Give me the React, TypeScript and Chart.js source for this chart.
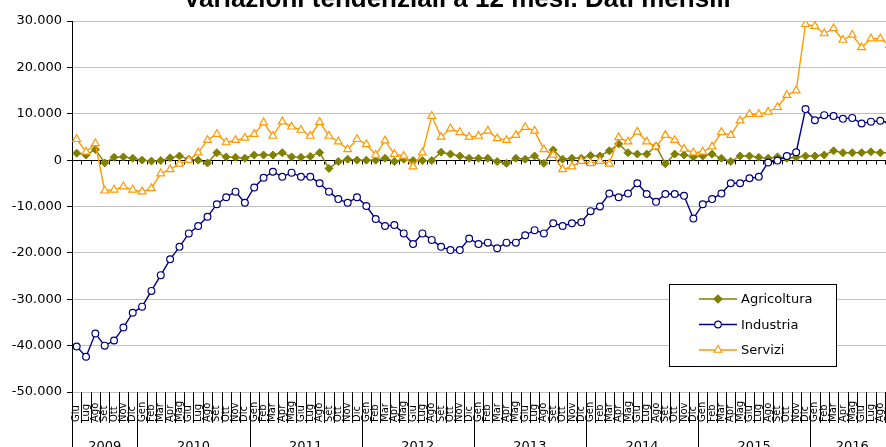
import React, { useEffect, useRef } from 'react';
import { Chart, registerables } from 'chart.js';

Chart.register(...registerables);

const TITLE = 'Variazioni tendenziali a 12 mesi. Dati mensili';
const MONTHS = ['Gen', 'Feb', 'Mar', 'Apr', 'Mag', 'Giu', 'Lug', 'Ago', 'Set', 'Ott', 'Nov', 'Dic'];
const YEARS = ['2009', '2010', '2011', '2012', '2013', '2014', '2015', '2016'];
const MONTHS_PER_YEAR = [7, 12, 12, 12, 12, 12, 12, 9];
const FIRST_MONTH = 5; // Giu 2009

const categories: string[] = [];
{
  let m = FIRST_MONTH;
  MONTHS_PER_YEAR.forEach((c) => {
    for (let k = 0; k < c; k++) {
      categories.push(MONTHS[m % 12]);
      m++;
    }
  });
}

// values in thousands
const agricoltura = [
  1.5, 1.1, 2.3, -0.6, 0.6, 0.7, 0.4,
  0.0, -0.2, -0.1, 0.5, 0.9, 0.2, 0.0, -0.6, 1.6, 0.7, 0.6, 0.4,
  1.1, 1.1, 1.1, 1.6, 0.7, 0.6, 0.8, 1.6, -1.8, -0.3, 0.2, 0.0,
  0.0, 0.0, 0.4, -0.3, 0.2, -0.1, -0.1, -0.1, 1.7, 1.3, 0.9, 0.4,
  0.4, 0.4, -0.3, -0.7, 0.4, 0.2, 0.9, -0.7, 2.2, 0.2, 0.4, 0.4,
  1.0, 0.9, 2.0, 3.5, 1.6, 1.3, 1.3, 3.0, -0.8, 1.3, 1.1, 0.7,
  0.9, 1.3, 0.4, -0.3, 0.9, 0.9, 0.6, 0.4, 0.7, 0.4, 0.6, 0.9,
  0.9, 1.1, 2.0, 1.6, 1.6, 1.6, 1.8, 1.6, 1.6,
];

const industria = [
  -40.2, -42.4, -37.4, -40.0, -38.9, -36.1, -32.9,
  -31.6, -28.2, -24.8, -21.4, -18.7, -15.8, -14.2, -12.2, -9.5, -8.0, -6.8, -9.2,
  -5.9, -3.8, -2.5, -3.6, -2.7, -3.6, -3.6, -5.0, -6.8, -8.4, -9.2, -8.0,
  -9.9, -12.7, -14.2, -14.0, -15.8, -18.1, -15.8, -17.2, -18.7, -19.4, -19.4, -16.9,
  -18.1, -17.8, -19.0, -17.8, -17.8, -16.2, -15.1, -15.8, -13.6, -14.2, -13.6, -13.4,
  -11.0, -10.0, -7.2, -8.0, -7.2, -5.0, -7.3, -9.0, -7.3, -7.3, -7.7, -12.6,
  -9.5, -8.4, -7.2, -5.0, -5.0, -3.9, -3.6, -0.5, -0.1, 0.9, 1.7, 11.0,
  8.6, 9.7, 9.5, 8.9, 9.1, 7.9, 8.3, 8.5, 8.0,
];

const servizi = [
  4.5, 1.8, 3.6, -6.6, -6.4, -5.7, -6.4,
  -6.8, -6.1, -2.9, -2.0, -0.8, 0.0, 1.6, 4.3, 5.6, 3.8, 4.3, 4.8,
  5.6, 8.1, 5.2, 8.3, 7.2, 6.5, 5.2, 8.2, 5.2, 4.0, 2.3, 4.5,
  3.4, 1.1, 4.2, 1.3, 0.9, -1.4, 1.6, 9.5, 5.0, 6.8, 6.0, 5.0,
  5.2, 6.3, 4.7, 4.3, 5.4, 7.1, 6.3, 2.3, 1.1, -2.0, -1.4, -0.2,
  -0.7, -0.2, -0.8, 4.9, 4.0, 6.1, 4.0, 2.9, 5.4, 4.3, 2.4, 1.6,
  1.8, 2.9, 6.0, 5.4, 8.5, 9.9, 9.9, 10.4, 11.4, 14.0, 15.0, 29.3,
  28.9, 27.3, 28.4, 25.9, 27.0, 24.3, 26.2, 26.2, 24.8,
];

const Y_MIN = -50;
const Y_MAX = 30;
const Y_STEP = 10;

const SERIES = [
  { name: 'Agricoltura', color: '#808000', marker: 'diamond' },
  { name: 'Industria', color: '#000080', marker: 'circle' },
  { name: 'Servizi', color: '#FF9900', marker: 'triangle' },
];

const FONT = '"DejaVu Sans", Verdana, sans-serif';

function fmt(v: number) {
  if (v === 0) return '0';
  return `${v}.000`;
}

function drawMarker(ctx: CanvasRenderingContext2D, kind: string, x: number, y: number, color: string) {
  ctx.save();
  ctx.lineWidth = 1.2;
  ctx.strokeStyle = color;
  ctx.beginPath();
  if (kind === 'diamond') {
    const r = 4;
    ctx.moveTo(x - r, y);
    ctx.lineTo(x, y - r);
    ctx.lineTo(x + r, y);
    ctx.lineTo(x, y + r);
    ctx.closePath();
    ctx.fillStyle = color;
  } else if (kind === 'circle') {
    ctx.arc(x, y, 3.3, 0, Math.PI * 2);
    ctx.fillStyle = '#fff';
  } else {
    const r = 4.5;
    for (let k = 0; k < 3; k++) {
      const a = -Math.PI / 2 + (k * 2 * Math.PI) / 3;
      const px = x + Math.cos(a) * r;
      const py = y + Math.sin(a) * r;
      if (k === 0) ctx.moveTo(px, py);
      else ctx.lineTo(px, py);
    }
    ctx.closePath();
    ctx.fillStyle = '#fff';
  }
  ctx.fill();
  ctx.stroke();
  ctx.restore();
}

const decorPlugin = {
  id: 'decor',
  beforeDatasetsDraw(chart: any) {
    const { ctx, chartArea, scales } = chart;
    const x = scales.x;
    const y = scales.y;
    const n = categories.length;
    const w = (x.getPixelForValue(1) - x.getPixelForValue(0));
    const y0 = Math.round(y.getPixelForValue(0)) + 0.5;
    ctx.save();
    ctx.strokeStyle = '#000';
    ctx.lineWidth = 1;
    ctx.beginPath();
    ctx.moveTo(chartArea.left, y0);
    ctx.lineTo(chartArea.right, y0);
    for (let i = 0; i <= n; i++) {
      const bx = Math.round(x.getPixelForValue(0) - w / 2 + i * w) + 0.5;
      ctx.moveTo(bx, y0);
      ctx.lineTo(bx, y0 + 4);
    }
    ctx.stroke();
    ctx.restore();
  },
  afterDraw(chart: any) {
    const { ctx, chartArea, scales, height } = chart;
    const x = scales.x;
    const n = categories.length;
    const w = (x.getPixelForValue(1) - x.getPixelForValue(0));
    const bottom = chartArea.bottom;
    const bnd = (i: number) => x.getPixelForValue(0) - w / 2 + i * w;

    ctx.save();
    // title
    ctx.fillStyle = '#000';
    ctx.font = 'bold 26px "Liberation Sans", Arial, sans-serif';
    ctx.textAlign = 'center';
    ctx.textBaseline = 'alphabetic';
    ctx.fillText(TITLE, 457, 27);

    // month separators
    ctx.strokeStyle = '#000';
    ctx.lineWidth = 1;
    ctx.beginPath();
    for (let i = 0; i <= n; i++) {
      const bx = Math.round(bnd(i)) + 0.5;
      ctx.moveTo(bx, bottom);
      ctx.lineTo(bx, bottom + 31);
    }
    // year separators
    let acc = 0;
    const yearBounds = [0];
    MONTHS_PER_YEAR.forEach((c) => {
      acc += c;
      yearBounds.push(acc);
    });
    yearBounds.forEach((b) => {
      const bx = Math.round(bnd(b)) + 0.5;
      ctx.moveTo(bx, bottom);
      ctx.lineTo(bx, height);
    });
    ctx.stroke();

    ctx.font = `10px ${FONT}`;
    ctx.textAlign = 'left';
    ctx.textBaseline = 'middle';
    categories.forEach((lab, i) => {
      const cx = x.getPixelForValue(i);
      ctx.save();
      ctx.translate(cx, bottom + 30);
      ctx.rotate(-Math.PI / 2);
      ctx.fillText(lab, 0, 0);
      ctx.restore();
    });

    ctx.font = `13px ${FONT}`;
    ctx.textAlign = 'center';
    ctx.textBaseline = 'alphabetic';
    YEARS.forEach((yr, k) => {
      const cx = (bnd(yearBounds[k]) + bnd(yearBounds[k + 1])) / 2;
      ctx.fillText(yr, cx, bottom + 58);
    });

    // legend
    const lx = 669.5, ly = 304.5, lw = 167, lh = 82;
    ctx.fillStyle = '#fff';
    ctx.fillRect(lx, ly, lw, lh);
    ctx.strokeStyle = '#000';
    ctx.lineWidth = 1;
    ctx.strokeRect(lx, ly, lw, lh);
    ctx.font = `13px ${FONT}`;
    ctx.textAlign = 'left';
    ctx.textBaseline = 'middle';
    SERIES.forEach((s, k) => {
      const ry = 319 + k * 25.5;
      ctx.strokeStyle = s.color;
      ctx.lineWidth = 1.3;
      ctx.beginPath();
      ctx.moveTo(699, ry);
      ctx.lineTo(737, ry);
      ctx.stroke();
      drawMarker(ctx, s.marker, 718, ry, s.color);
      ctx.fillStyle = '#000';
      ctx.fillText(s.name, 741, ry + 1);
    });
    ctx.restore();
  },
};

export default function App() {
  const ref = useRef<HTMLCanvasElement | null>(null);
  useEffect(() => {
    document.body.style.overflow = 'hidden';
    const canvas = ref.current;
    if (!canvas) return;
    const chart = new Chart(canvas, {
      type: 'line',
      data: {
        labels: categories,
        datasets: [
          {
            label: 'Servizi',
            data: servizi,
            borderColor: '#FF9900',
            backgroundColor: '#fff',
            borderWidth: 1.4,
            pointStyle: 'triangle',
            pointRadius: 4.5,
            pointBorderWidth: 1.2,
            pointBackgroundColor: '#fff',
            pointBorderColor: '#FF9900',
            tension: 0,
          },
          {
            label: 'Industria',
            data: industria,
            borderColor: '#000080',
            backgroundColor: '#fff',
            borderWidth: 1.4,
            pointStyle: 'circle',
            pointRadius: 3.4,
            pointBorderWidth: 1.2,
            pointBackgroundColor: '#fff',
            pointBorderColor: '#000080',
            tension: 0,
          },
          {
            label: 'Agricoltura',
            data: agricoltura,
            borderColor: '#808000',
            backgroundColor: '#808000',
            borderWidth: 1.4,
            pointStyle: 'rectRot',
            pointRadius: 4,
            pointBorderWidth: 1,
            pointBackgroundColor: '#808000',
            pointBorderColor: '#808000',
            tension: 0,
          },
        ],
      },
      options: {
        responsive: false,
        animation: false,
        events: [],
        layout: { padding: { top: 41, bottom: 63, left: 0, right: 3 } },
        plugins: {
          legend: { display: false },
          title: { display: false },
          tooltip: { enabled: false },
        },
        scales: {
          x: {
            type: 'category',
            offset: true,
            display: false,
          },
          y: {
            min: Y_MIN,
            max: Y_MAX,
            afterFit: (s: any) => {
              s.width = 72;
            },
            ticks: {
              stepSize: Y_STEP,
              padding: 5,
              color: '#000',
              font: { family: FONT, size: 13 },
              callback: (v: any) => fmt(Number(v)),
            },
            grid: {
              color: '#c0c0c0',
              lineWidth: 1,
              tickLength: 5,
              tickColor: '#000',
              drawTicks: true,
            },
            border: { display: true, color: '#000', width: 1 },
          },
        },
      },
      plugins: [decorPlugin],
    });
    return () => chart.destroy();
  }, []);

  return (
    <div style={{ position: 'absolute', left: 0, top: -20, width: 900, height: 475, background: '#fff' }}>
      <canvas ref={ref} width={900} height={475} style={{ width: 900, height: 475, display: 'block' }} />
    </div>
  );
}
